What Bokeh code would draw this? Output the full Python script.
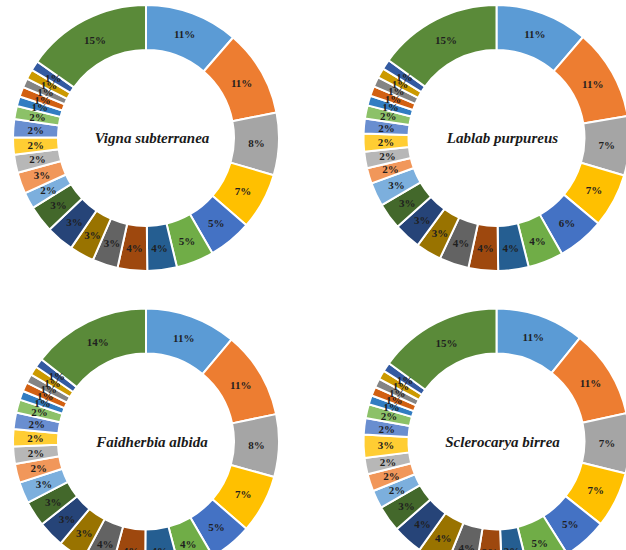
import math
from bokeh.plotting import figure
from bokeh.models import ColumnDataSource, Range1d
from bokeh.core.properties import value
from bokeh.embed import file_html
from bokeh.resources import INLINE

species = ["Vigna subterranea", "Lablab purpureus", "Faidherbia albida", "Sclerocarya birrea"]

vigna = [11.4, 10.6, 7.6, 6.9, 5.3, 4.6, 3.6, 3.6, 3.1, 3.0, 3.4, 3.3,
         2.0, 2.6, 2.2, 2.1, 2.2, 1.6, 1.2, 1.2, 1.1, 1.2, 1.2, 15.3]
lablab = [11.3, 11.1, 7.2, 6.6, 5.7, 4.3, 3.7, 3.6, 3.6, 3.1, 3.3, 3.2,
          2.9, 1.9, 2.0, 2.2, 1.8, 1.6, 1.2, 1.2, 1.2, 1.2, 1.2, 15.1]
faidherbia = [11.1, 10.6, 7.6, 7.1, 5.2, 4.3, 4.2, 4.1, 3.6, 3.3, 3.2, 3.1,
              2.6, 2.3, 2.1, 2.1, 2.0, 1.6, 1.1, 1.1, 1.1, 1.1, 1.1, 14.4]
sclerocarya = [10.8, 10.8, 7.3, 6.8, 5.4, 5.1, 3.2, 3.2, 3.6, 3.7, 3.7, 3.2,
               2.2, 2.1, 2.0, 2.8, 2.0, 1.7, 1.1, 1.1, 1.1, 1.1, 1.1, 15.0]

colors = ["#5B9BD5", "#ED7D31", "#A5A5A5", "#FFC000", "#4472C4", "#70AD47",
          "#255E91", "#9E480E", "#636363", "#997300", "#264478", "#43682B",
          "#7CAFDD", "#F1975A", "#B7B7B7", "#FFCD33", "#698ED0", "#8CC168",
          "#327DC2", "#D26012", "#848484", "#CC9A00", "#335AA1", "#5A8A39"]

W, H = 626, 550
centers = [(145.5, H - 137.5), (496.0, H - 137.5), (145.5, H - 441.0), (496.0, H - 441.0)]
R_IN, R_OUT = 88, 133

p = figure(width=W, height=H, x_range=Range1d(0, W), y_range=Range1d(0, H),
           output_backend="svg", toolbar_location=None, min_border=0)
p.axis.visible = False
p.grid.visible = False
p.outline_line_color = None
p.background_fill_color = "white"
p.border_fill_color = "white"

for name, vals, (cx, cy) in zip(species, [vigna, lablab, faidherbia, sclerocarya], centers):
    total = sum(vals)
    starts, ends, lx, ly, labels = [], [], [], [], []
    cum = 0.0
    for v in vals:
        a0 = math.pi / 2 - 2 * math.pi * cum / total
        cum += v
        a1 = math.pi / 2 - 2 * math.pi * cum / total
        starts.append(a0)
        ends.append(a1)
        mid = (a0 + a1) / 2
        rm = (R_IN + R_OUT) / 2
        lx.append(cx + rm * math.cos(mid))
        ly.append(cy + rm * math.sin(mid))
        labels.append(f"{round(v)}%")
    src = ColumnDataSource(dict(x=[cx] * len(vals), y=[cy] * len(vals),
                                start=starts, end=ends, color=colors[:len(vals)]))
    p.annular_wedge(x="x", y="y", inner_radius=R_IN, outer_radius=R_OUT,
                    start_angle="start", end_angle="end", direction="clock",
                    fill_color="color", line_color="white", line_width=2, source=src)
    lsrc = ColumnDataSource(dict(x=lx, y=ly, t=labels))
    p.text(x="x", y="y", text="t", source=lsrc, text_align="center",
           text_baseline="middle", text_font=value("Liberation Serif"),
           text_font_style="bold", text_font_size="11px", text_color="#1f1f1f")
    p.text(x=[cx + 6], y=[cy], text=[name], text_align="center", text_baseline="middle",
           text_font=value("Liberation Serif"), text_font_style="bold italic",
           text_font_size="15px", text_color="#1a1a1a")

html = file_html(p, INLINE)
html = html.replace("<head>", "<head><style>html,body{margin:0;padding:0;}</style>", 1)
open("out.html", "w").write(html)
